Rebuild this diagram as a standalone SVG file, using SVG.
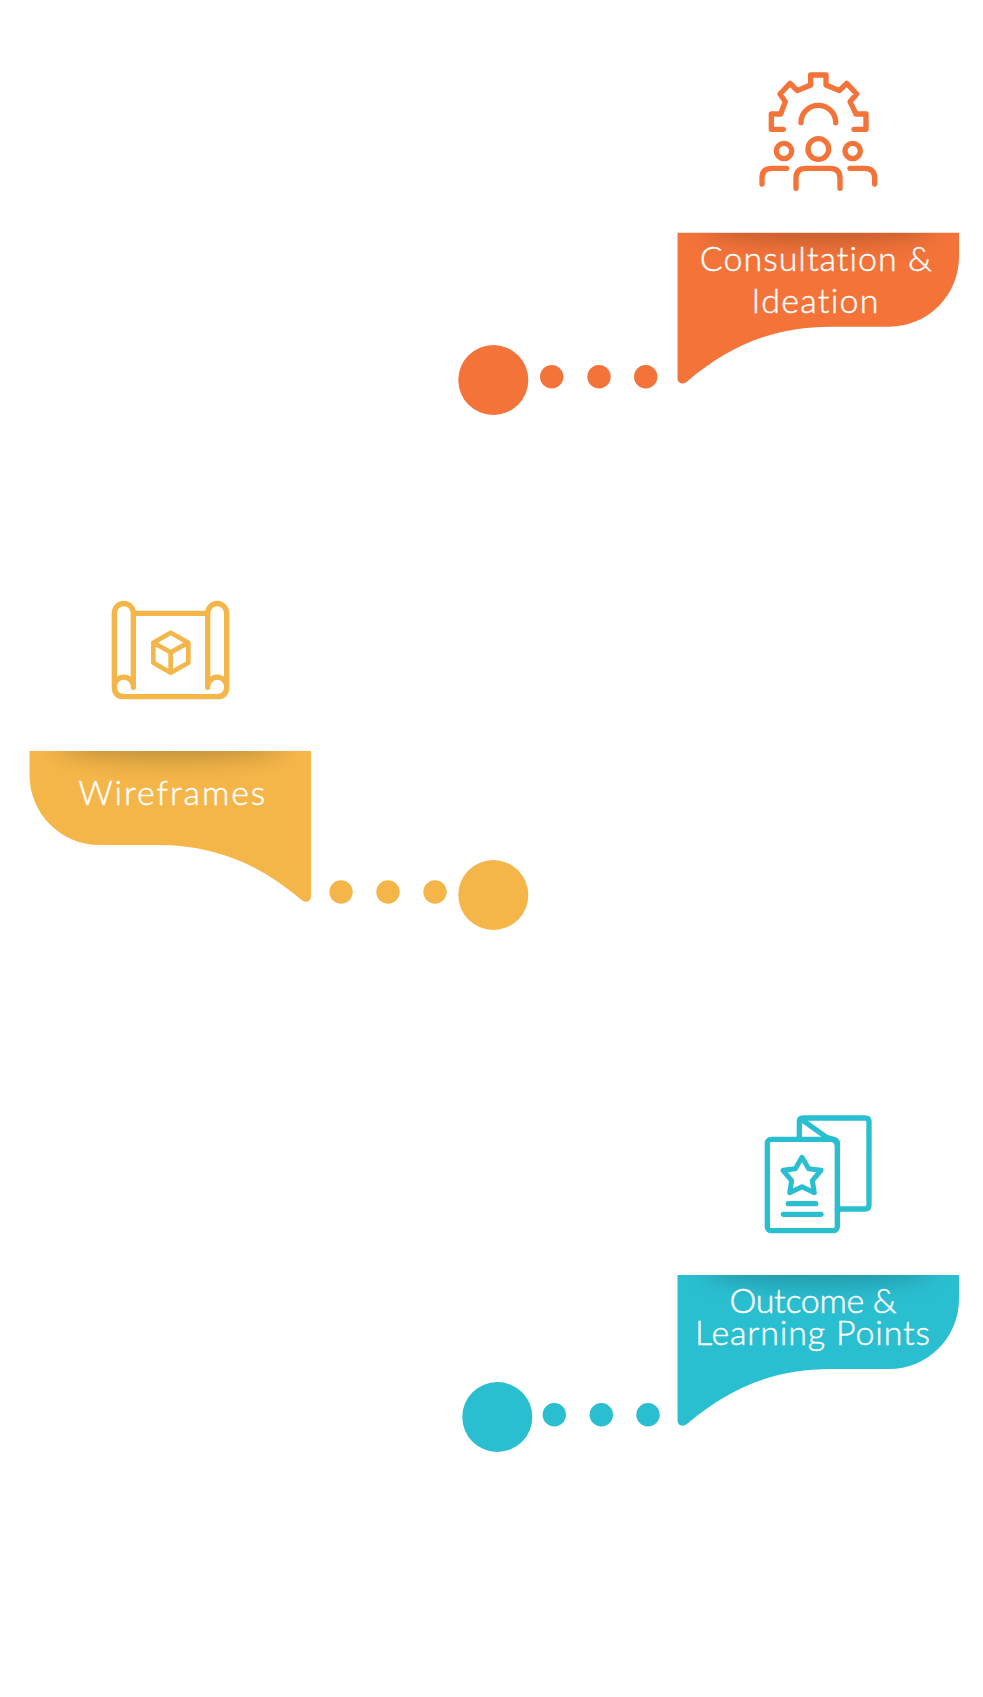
<svg xmlns="http://www.w3.org/2000/svg" width="983" height="1697" viewBox="0 0 983 1697">
<style>
.t{font-family:"Lato","Noto Sans","Liberation Sans",sans-serif;font-weight:300;font-size:34px;fill:#fff;stroke:#fff;stroke-width:.45;text-anchor:middle;font-variant-ligatures:none}
.i{fill:none;stroke-width:16;stroke-linecap:round;stroke-linejoin:round}
.o{fill:#f37339}.y{fill:#f5b649}.c{fill:#2abed1}
.s{fill:#000;fill-opacity:.2;filter:url(#bl)}
</style>
<defs>
<filter id="bl" x="-30%" y="-150%" width="160%" height="400%"><feGaussianBlur stdDeviation="11"/></filter>
<path id="b" d="M0 0H281.500V24A70 70 0 0 1 211.500 94H153C98 94 53 112 10 148.500Q6.500 151.500 3.500 150.500Q0 149.500 0 145Z"/>
<clipPath id="bc"><use href="#b"/></clipPath>
</defs>
<rect width="983" height="1697" fill="#fff"/>
<g id="connectors">
<g class="o"><circle cx="551.700" cy="376.700" r="11.700"/><circle cx="599" cy="376.700" r="11.700"/><circle cx="645.700" cy="376.700" r="11.700"/></g>
<g class="y"><circle cx="341" cy="892" r="11.700"/><circle cx="388" cy="892" r="11.700"/><circle cx="435" cy="892" r="11.700"/></g>
<g class="c"><circle cx="554.300" cy="1414.700" r="11.700"/><circle cx="601.300" cy="1414.700" r="11.700"/><circle cx="648" cy="1414.700" r="11.700"/></g>
</g>
<g id="consultation">
<circle class="o" cx="493.300" cy="380" r="35"/>
<g transform="translate(677.500 232.700)"><use href="#b" class="o"/><g clip-path="url(#bc)"><ellipse class="s" cx="141" cy="-6" rx="115" ry="16"/></g></g>
<g class="i" stroke="#f37339" transform="translate(640 50) scale(.33333)">
<path d="M430 238H394V192H422L436 155L420 132L450 100L472 122L512 105V75H558V105L598 122L620 100L650 132L630 155L648 192H678V238H642"/>
<path d="M483 218A52 52 0 0 1 587 218"/>
<circle cx="432" cy="303" r="23"/><circle cx="535" cy="297" r="31"/><circle cx="638" cy="303" r="23"/>
<path d="M366 402V385Q366 355 396 355H440M468 415V385Q468 355 498 355H570Q600 355 600 385V415M704 402V385Q704 355 674 355H630"/>
</g>
<text class="t" x="815.800" y="270.700" textLength="232">Consultation &amp;</text>
<text class="t" x="815" y="313" textLength="127">Ideation</text>
</g>
<g id="wireframes">
<circle class="y" cx="493.300" cy="895" r="35"/>
<g transform="translate(311 751) scale(-1 1)"><use href="#b" class="y"/><g clip-path="url(#bc)"><ellipse class="s" cx="141" cy="-6" rx="115" ry="16"/></g></g>
<g class="i" stroke="#f5b649" transform="translate(20 570) scale(.33333)">
<path d="M340 352V129A28.500 28.500 0 0 0 283 129V350Q283 380 313 380H590Q620 380 620 350V129A28.500 28.500 0 0 0 563 129V352M340 130H563M283 350A28.500 28.500 0 0 1 340 350M563 350A28.500 28.500 0 0 1 620 350"/>
<path stroke-width="14" d="M452 188L505 218V278L452 308L400 278V218ZM400 218L452 247L505 218M452 247V308"/>
</g>
<text class="t" x="171.700" y="805" textLength="187">Wireframes</text>
</g>
<g id="outcome">
<circle class="c" cx="497.300" cy="1417" r="35"/>
<g transform="translate(677.500 1275)"><use href="#b" class="c"/><g clip-path="url(#bc)"><ellipse class="s" cx="141" cy="-6" rx="115" ry="16"/></g></g>
<g class="i" stroke="#2abed1" transform="translate(640 1080) scale(.33333)">
<rect x="382" y="178" width="210" height="274" rx="12"/>
<path d="M478 172V125Q478 114 490 114H675Q687 114 687 125V375Q687 387 675 387H592M484 118L560 172Q590 178 592 195"/>
<path stroke-width="15" d="M486 232L506 266L543 271L517 302L523 338L486 320L449 338L455 302L429 271L466 266Z"/>
<path d="M445 371H527M430 403H543"/>
</g>
<text class="t" x="813" y="1313" textLength="167">Outcome &amp;</text>
<text class="t" x="812.500" y="1345" textLength="235">Learning Points</text>
</g>
</svg>
